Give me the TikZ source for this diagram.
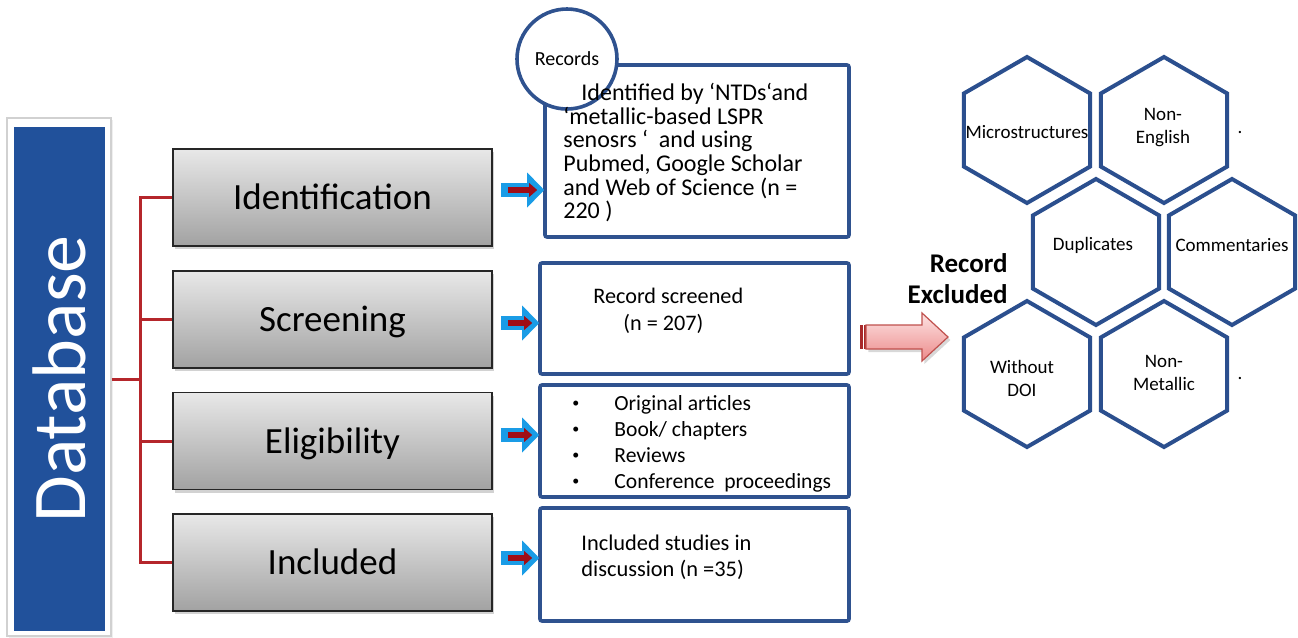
\documentclass[tikz,border=0pt]{standalone}
\usepackage{fontspec}
\setmainfont{Carlito}
\usetikzlibrary{calc,shapes.geometric,shadows,arrows.meta}

\definecolor{dbblue}{HTML}{21519B}
\definecolor{boxblue}{HTML}{2F528F}
\definecolor{hexblue}{HTML}{2B4F8E}
\definecolor{bracketred}{HTML}{B5262B}
\definecolor{arrowblue}{HTML}{1A9CE6}
\definecolor{arrowred}{HTML}{A00D16}
\definecolor{stageTop}{HTML}{E8E8E8}
\definecolor{stageBot}{HTML}{A2A2A2}
\definecolor{pinkTop}{HTML}{FDE3E3}
\definecolor{pinkBot}{HTML}{EC8A8A}
\definecolor{pinkEdge}{HTML}{C0504D}
\definecolor{pinkDark}{HTML}{A8282A}

\newcommand{\smallbullet}{\makebox[21pt][l]{\raisebox{1.3pt}{\fontsize{7}{7}\selectfont •}}}

\begin{document}
\begin{tikzpicture}[x=0.5pt,y=-0.5pt,
  frame/.style={draw=black!18, line width=0.6pt, fill=white, minimum width=52pt,
    minimum height=259pt, inner sep=0pt,
    drop shadow={opacity=0.12, shadow xshift=1pt, shadow yshift=-1pt}},
  dbbox/.style={fill=dbblue, text=white, rotate=90, minimum width=252pt,
    minimum height=45.5pt, inner sep=0pt, font=\fontsize{38}{40}\selectfont},
  stage/.style={draw=black!85, line width=0.8pt, top color=stageTop, bottom color=stageBot,
    minimum width=159.5pt, minimum height=48.5pt, inner sep=0pt,
    font=\fontsize{18.5}{20}\selectfont, text height=12pt, text depth=0pt,
    drop shadow={opacity=0.35, shadow xshift=1.2pt, shadow yshift=-1.5pt}},
  record/.style={draw=boxblue, line width=1.8pt, rounded corners=1pt, fill=white, inner sep=0pt},
  rectext/.style={anchor=north west, inner sep=0pt, align=left},
  bracket/.style={draw=bracketred, line width=1.5pt},
  outarrow/.style={draw=arrowblue, line width=7pt,
    -{Triangle[length=8.5pt, width=17.5pt, line width=0pt]}},
  inarrow/.style={draw=arrowred, line width=3pt,
    -{Triangle[length=4pt, width=7pt, line width=0pt]}},
  hexshape/.style={regular polygon, regular polygon sides=6, shape border rotate=30,
    draw=hexblue, line width=2pt, minimum size=73pt, inner sep=0pt},
  hextext/.style={font=\fontsize{9.5}{11.5}\selectfont, align=center, inner sep=0pt},
]
\useasboundingbox (0,0) rectangle (1298,638);
\fill[white] (0,0) rectangle (1298,638);

% database column
\node[frame] (frame) at (59,377) {};
\node[dbbox] (db) at (59.5,379) {Database};

% stage boxes
\node[stage] (g1) at (332.5,197.5) {Identification};
\node[stage] (g2) at (332.5,319.5) {Screening};
\node[stage] (g3) at (332.5,441) {Eligibility};
\node[stage] (g4) at (332.5,562.5) {Included};

% red bracket from the database to the stages
\coordinate (bx) at (140,379);
\draw[bracket] (frame.east |- bx) -- (bx);
\foreach \g in {g1,g2,g3,g4} \draw[bracket] (\g.west) -| (bx);

% record boxes
\node[record, minimum width=152pt, minimum height=86pt] (r1) at (697,151) {};
\node[record, minimum width=154.5pt, minimum height=55.5pt] (r2) at (694.5,318.5) {};
\node[record, minimum width=154.5pt, minimum height=56pt] (r3) at (694.5,441) {};
\node[record, minimum width=154.5pt, minimum height=56.5pt] (r4) at (694.5,564.5) {};

\node[circle, draw=boxblue, line width=1.8pt, fill=white, minimum size=50pt, inner sep=0pt,
  font=\fontsize{10}{12}\selectfont] (rec) at (567,59) {Records};

\node[rectext, font=\fontsize{12}{11.8}\selectfont] (t1) at (563,83)
  {\hspace*{9pt}Identified by ‘NTDs‘and\\‘metallic-based LSPR\\senosrs ‘\ \ and using\\
   Pubmed, Google Scholar\\and Web of Science (n =\\220 )};
\node[rectext, font=\fontsize{11.1}{13.5}\selectfont] (t2) at (593,288)
  {Record screened\\\hspace*{15pt}(n = 207)};
\node[rectext, font=\fontsize{10.8}{13}\selectfont] (t3) at (572,395)
  {\smallbullet Original articles\\\smallbullet Book/ chapters\\
   \smallbullet Reviews\\\smallbullet Conference\ \ proceedings};
\node[rectext, font=\fontsize{11.2}{13}\selectfont] (t4) at (581,535)
  {Included studies in\\discussion (n =35)};

% stage -> record arrows
\foreach \g/\r/\dy in {g1/r1/-7.5, g2/r2/3.5, g3/r3/-6, g4/r4/-4.5} {
  \draw[outarrow] ($(\g.east)+(8,\dy)$) -- ($(\g.east -| \r.west)+(1,\dy)$);
  \draw[inarrow] ($(\g.east)+(15,\dy)$) -- ($(\g.east -| \r.west)+(-6,\dy)$);
}

% block arrow towards the exclusion criteria
\fill[pinkDark] (860,325) rectangle (862.5,349);
\fill[pinkDark] (864,325) rectangle (865.5,349);
\shade[top color=pinkTop, bottom color=pinkBot, draw=pinkEdge, line width=0.6pt,
  drop shadow={opacity=0.3, shadow xshift=1.2pt, shadow yshift=-1.5pt}]
  (866,325) -- (922,325) -- (922,313) -- (948,337) -- (922,361) -- (922,349) -- (866,349) -- cycle;

\node[font=\bfseries\fontsize{13.5}{15.5}\selectfont, align=right, anchor=east, inner sep=0pt]
  (excl) at (1008,279) {Record\\Excluded};

% exclusion criteria
\node[hexshape] (h1) at (1027,130) {};
\node[hexshape] (h2) at (1164,130) {};
\node[hexshape] (h3) at (1096,252) {};
\node[hexshape] (h4) at (1232,252) {};
\node[hexshape] (h5) at (1027,374) {};
\node[hexshape] (h6) at (1164,374) {};
\node[hextext] (l1) at (1027,132) {Microstructures};
\node[hextext] (l2) at (1163,128) {Non-\\English};
\node[hextext] (l3) at (1093,245) {Duplicates};
\node[hextext] (l4) at (1232,245) {Commentaries};
\node[hextext] (l5) at (1022,378) {Without\\DOI};
\node[hextext] (l6) at (1164,373) {Non-\\Metallic};
\node[hextext, anchor=base] (d1) at (1240,133) {.};
\node[hextext, anchor=base] (d2) at (1240,379) {.};
\end{tikzpicture}
\end{document}
